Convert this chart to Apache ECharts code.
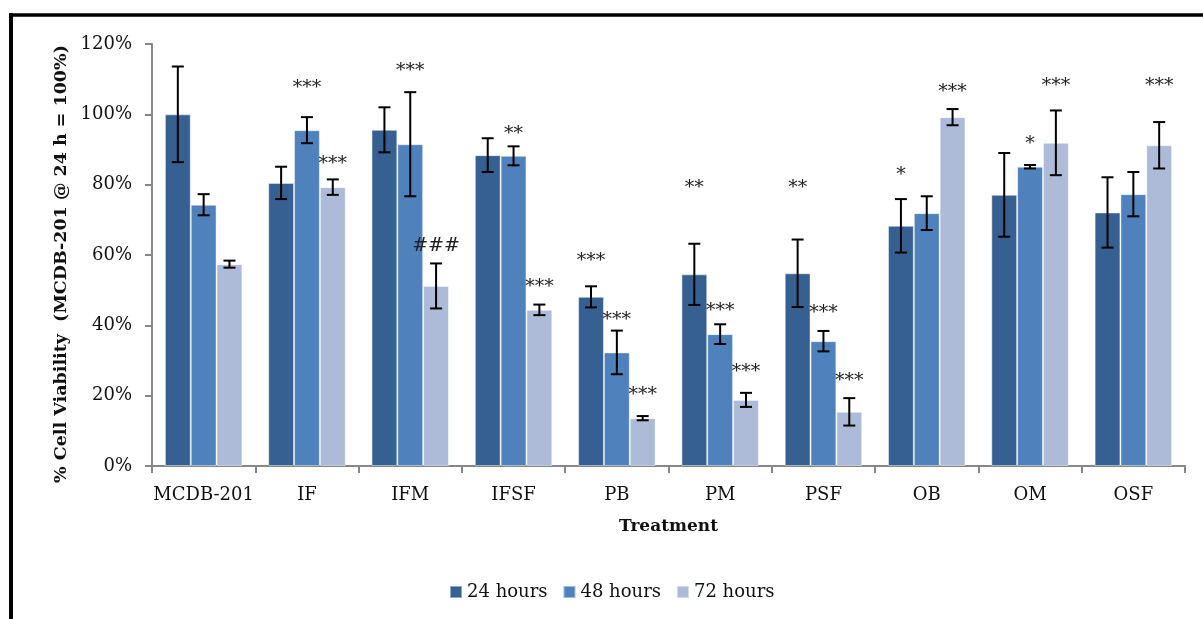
<!DOCTYPE html>
<html>
<head>
<meta charset="utf-8">
<title>% Cell Viability by Treatment</title>
<script src="https://cdn.jsdelivr.net/npm/echarts@6/dist/echarts.min.js"></script>
<style>
  html, body { margin: 0; padding: 0; background: #fff; }
  #chart { width: 1203px; height: 619px; }
</style>
</head>
<body>
<div id="chart"></div>
<script>
// Treatment groups on the category axis
const categories = ['MCDB-201', 'IF', 'IFM', 'IFSF', 'PB', 'PM', 'PSF', 'OB', 'OM', 'OSF'];
const seriesNames = ['24 hours', '48 hours', '72 hours'];

// Mean viability (%) per time point
const h24 = [100.0, 80.5, 95.6, 88.4, 48.1, 54.5, 54.8, 68.3, 77.1, 72.1];
const h48 = [74.3, 95.5, 91.5, 88.2, 32.3, 37.5, 35.5, 71.9, 85.1, 77.3];
const h72 = [57.4, 79.3, 51.2, 44.4, 13.6, 18.8, 15.4, 99.2, 91.9, 91.2];

// Error bar half-lengths (%)
const sd24 = [13.6, 4.6, 6.4, 4.8, 3.0, 8.7, 9.6, 7.6, 11.9, 10.0];
const sd48 = [3.0, 3.7, 14.8, 2.7, 6.2, 2.8, 2.9, 4.8, 0.5, 6.3];
const sd72 = [1.0, 2.2, 6.4, 1.5, 0.6, 2.0, 3.9, 2.3, 9.2, 6.6];

// Significance marks and the value level each one sits at
const sig24 = ['', '', '', '', '***', '**', '**', '*', '', ''];
const sig48 = ['', '***', '***', '**', '***', '***', '***', '', '*', ''];
const sig72 = ['', '***', '###', '***', '***', '***', '***', '***', '***', '***'];
const sigAt24 = [null, null, null, null, 59.7, 80.5, 80.5, 84.2, null, null];
const sigAt48 = [null, 108.9, 113.7, 95.8, 42.9, 45.6, 44.9, null, 93.0, null];
const sigAt72 = [null, 87.3, 62.6, 52.3, 21.6, 28.2, 25.6, 107.7, 109.4, 109.5];

// Y axis ticks
const yTicks = [0, 20, 40, 60, 80, 100, 120];
const yTitle = '% Cell Viability  (MCDB-201 @ 24 h = 100%)';
const xTitle = 'Treatment';

const colors = ['#376092', '#4f81bd', '#adbbd9'];
const means = [h24, h48, h72];
const sds = [sd24, sd48, sd72];
const sigs = [sig24, sig48, sig72];
const sigAts = [sigAt24, sigAt48, sigAt72];

const SERIF = '"DejaVu Serif", serif';
const CAT_GAP = 0.25;

function errorRenderer(k) {
  return function (params, api) {
    const i = api.value(0);
    const v = api.value(1);
    const sd = api.value(2);
    const band = api.size([1, 0])[0];
    const barW = band * (1 - CAT_GAP) / 3;
    const cx = api.coord([i, v])[0] + (k - 1) * barW;
    const yTop = api.coord([i, v + sd])[1];
    const yBot = api.coord([i, v - sd])[1];
    const cap = 6;
    const style = { stroke: '#000', lineWidth: 2 };
    const children = [
      { type: 'line', shape: { x1: cx, y1: yTop, x2: cx, y2: yBot }, style: style },
      { type: 'line', shape: { x1: cx - cap, y1: yTop, x2: cx + cap, y2: yTop }, style: style },
      { type: 'line', shape: { x1: cx - cap, y1: yBot, x2: cx + cap, y2: yBot }, style: style }
    ];
    const txt = sigs[k][i];
    const at = sigAts[k][i];
    if (txt && at != null) {
      const ty = api.coord([i, at])[1] + (txt.indexOf('*') >= 0 ? 5 : 0);
      children.push({
        type: 'text',
        style: {
          text: txt, x: cx, y: ty,
          align: 'center', verticalAlign: 'middle',
          font: '19px ' + SERIF, fill: '#222'
        }
      });
    }
    return { type: 'group', children: children };
  };
}

const barSeries = seriesNames.map((name, k) => ({
  name: name,
  type: 'bar',
  data: means[k],
  barGap: '0%',
  barCategoryGap: (CAT_GAP * 100) + '%',
  itemStyle: { color: colors[k], borderColor: 'rgba(255,255,255,0.45)', borderWidth: 1 },
  emphasis: { disabled: true },
  z: 2
}));

const errSeries = seriesNames.map((name, k) => ({
  name: name + ' error',
  type: 'custom',
  renderItem: errorRenderer(k),
  encode: { x: 0, y: 1 },
  data: categories.map((c, i) => [i, means[k][i], sds[k][i]]),
  z: 5,
  silent: true
}));

const chart = echarts.init(document.getElementById('chart'), null, { renderer: 'canvas' });
chart.setOption({
  animation: false,
  backgroundColor: '#fff',
  textStyle: { fontFamily: SERIF },
  grid: { left: 152, right: 18, top: 44, bottom: 153, containLabel: false },
  legend: {
    data: seriesNames,
    left: 444,
    top: 578,
    itemWidth: 12,
    itemHeight: 12,
    itemGap: 15,
    icon: 'rect',
    textStyle: { fontFamily: SERIF, fontSize: 18, color: '#111' },
    selectedMode: false
  },
  xAxis: {
    type: 'category',
    data: categories,
    name: xTitle,
    nameLocation: 'middle',
    nameGap: 52,
    nameTextStyle: { fontFamily: SERIF, fontWeight: 'bold', fontSize: 17, color: '#111' },
    axisLine: { lineStyle: { color: '#878787', width: 2 } },
    axisTick: { show: true, alignWithLabel: false, length: 7, lineStyle: { color: '#878787', width: 2 } },
    axisLabel: { interval: 0, fontFamily: SERIF, fontSize: 18, color: '#111', margin: 20 },
    splitLine: { show: false }
  },
  yAxis: {
    type: 'value',
    min: yTicks[0],
    max: yTicks[yTicks.length - 1],
    interval: yTicks[1] - yTicks[0],
    axisLine: { show: true, lineStyle: { color: '#878787', width: 2 } },
    axisTick: { show: true, length: 7, lineStyle: { color: '#878787', width: 2 } },
    axisLabel: { fontFamily: SERIF, fontSize: 18, color: '#111', margin: 20, formatter: '{value}%' },
    splitLine: { show: false }
  },
  graphic: [
    { type: 'line', shape: { x1: 9, y1: 15, x2: 1203, y2: 15 }, style: { stroke: '#000', lineWidth: 3.5 }, z: 10 },
    { type: 'line', shape: { x1: 11, y1: 13, x2: 11, y2: 619 }, style: { stroke: '#000', lineWidth: 4 }, z: 10 },
    {
      type: 'text', x: 61, y: 264, rotation: Math.PI / 2,
      style: {
        text: yTitle, align: 'center', verticalAlign: 'middle',
        font: 'bold 17.5px ' + SERIF, fill: '#111'
      }
    }
  ],
  series: barSeries.concat(errSeries)
});
</script>
</body>
</html>
